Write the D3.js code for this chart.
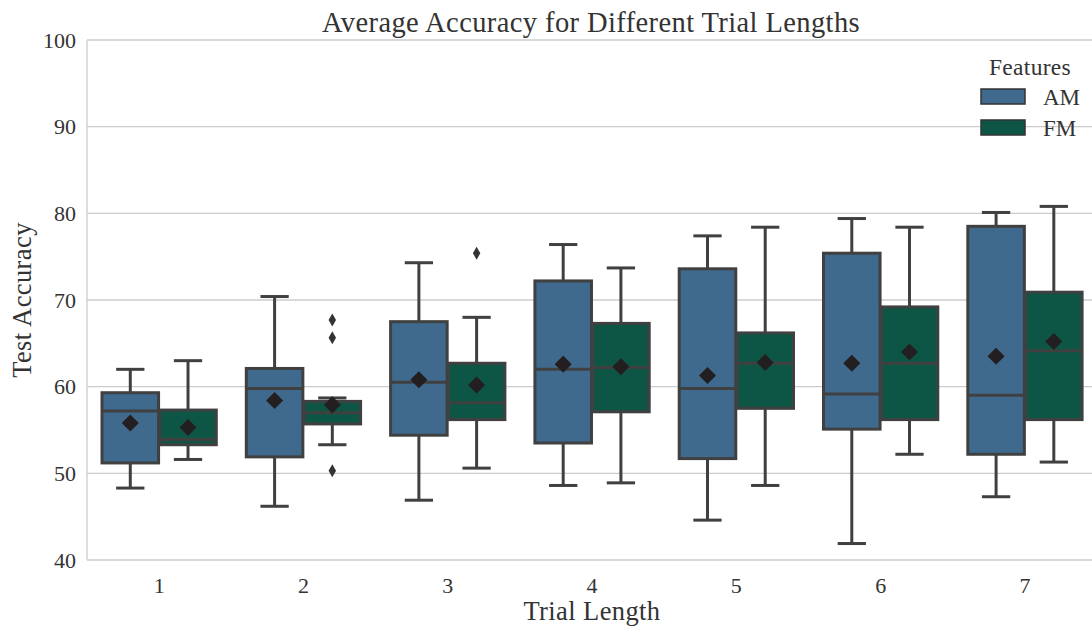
<!DOCTYPE html>
<html>
<head>
<meta charset="utf-8">
<script src="https://cdnjs.cloudflare.com/ajax/libs/d3/7.8.5/d3.min.js"></script>
<style>
 body { margin: 0; background: #fff; }
 text { font-family: "Liberation Serif", "DejaVu Serif", serif; fill: #333; }
</style>
</head>
<body>
<script>
'use strict'
// Boxplot: test accuracy per trial length, AM vs FM features

const trials = ["1", "2", "3", "4", "5", "6", "7"];
const features = ["AM", "FM"];
const yTicks = [40, 50, 60, 70, 80, 90, 100];

// five-number summaries + mean, one entry per trial length
const amLow  = [48.3, 46.2, 46.9, 48.6, 44.6, 41.9, 47.3];
const amQ1   = [51.2, 51.9, 54.4, 53.5, 51.7, 55.1, 52.2];
const amMed  = [57.2, 59.8, 60.5, 62.0, 59.8, 59.15, 59.0];
const amQ3   = [59.3, 62.1, 67.5, 72.2, 73.6, 75.4, 78.5];
const amHigh = [62.0, 70.4, 74.3, 76.4, 77.4, 79.4, 80.1];
const amMean = [55.8, 58.4, 60.8, 62.6, 61.3, 62.7, 63.5];

const fmLow  = [51.6, 53.3, 50.6, 48.9, 48.6, 52.2, 51.3];
const fmQ1   = [53.3, 55.7, 56.2, 57.1, 57.5, 56.2, 56.2];
const fmMed  = [53.9, 57.0, 58.15, 62.2, 62.7, 62.7, 64.15];
const fmQ3   = [57.3, 58.3, 62.7, 67.3, 66.2, 69.2, 70.9];
const fmHigh = [63.0, 58.7, 68.0, 73.7, 78.4, 78.4, 80.8];
const fmMean = [55.3, 57.9, 60.2, 62.3, 62.8, 64.0, 65.2];

// fliers: [trial, feature, value]
const outliers = [["2", "FM", 67.7], ["2", "FM", 65.65], ["2", "FM", 50.3], ["3", "FM", 75.4]];

const colors = { AM: "#3f6a8e", FM: "#0d5646" };
const lineColor = "#404040";

const width = 1092, height = 628;
const margin = { top: 40, left: 87, bottom: 68 };

const svg = d3.select("body").append("svg")
 .attr("width", width)
 .attr("height", height);

const x = d3.scaleBand().domain(trials).range([margin.left, margin.left + 7 * 144.3]);
const hue = d3.scaleBand().domain(features).range([0.1, 0.9]);
const y = d3.scaleLinear().domain([40, 100]).range([height - margin.bottom, margin.top]);

// grid
svg.append("g").selectAll("line").data(yTicks).join("line")
 .attr("x1", margin.left).attr("x2", width)
 .attr("y1", d => y(d)).attr("y2", d => y(d))
 .attr("stroke", "#cccccc").attr("stroke-width", 1.3);

svg.append("line")
 .attr("x1", margin.left).attr("x2", margin.left)
 .attr("y1", y(100)).attr("y2", y(40))
 .attr("stroke", "#cccccc").attr("stroke-width", 1.3);

// y tick labels
svg.append("g").selectAll("text").data(yTicks).join("text")
 .attr("x", margin.left - 11).attr("y", d => y(d))
 .attr("text-anchor", "end").attr("dominant-baseline", "central")
 .style("font-size", "22px")
 .text(d => d);

// x tick labels
svg.append("g").selectAll("text").data(trials).join("text")
 .attr("x", d => x(d) + x.bandwidth() / 2).attr("y", 585)
 .attr("text-anchor", "middle").attr("dominant-baseline", "central")
 .style("font-size", "22px")
 .text(d => d);

// build box rows
let boxes = [];
trials.forEach((t, i) => {
 boxes.push({ trial: t, feat: "AM", low: amLow[i], q1: amQ1[i], med: amMed[i], q3: amQ3[i], high: amHigh[i], mean: amMean[i] });
 boxes.push({ trial: t, feat: "FM", low: fmLow[i], q1: fmQ1[i], med: fmMed[i], q3: fmQ3[i], high: fmHigh[i], mean: fmMean[i] });
});

const boxW = hue.bandwidth() * x.bandwidth() * 0.98;
const cx = d => x(d.trial) + (hue(d.feat) + hue.bandwidth() / 2) * x.bandwidth();

const g = svg.append("g").selectAll("g").data(boxes).join("g");

// whiskers
g.append("line")
 .attr("x1", cx).attr("x2", cx)
 .attr("y1", d => y(d.high)).attr("y2", d => y(d.q3))
 .attr("stroke", lineColor).attr("stroke-width", 3);
g.append("line")
 .attr("x1", cx).attr("x2", cx)
 .attr("y1", d => y(d.q1)).attr("y2", d => y(d.low))
 .attr("stroke", lineColor).attr("stroke-width", 3);
// caps
g.append("line")
 .attr("x1", d => cx(d) - boxW / 4).attr("x2", d => cx(d) + boxW / 4)
 .attr("y1", d => y(d.high)).attr("y2", d => y(d.high))
 .attr("stroke", lineColor).attr("stroke-width", 3);
g.append("line")
 .attr("x1", d => cx(d) - boxW / 4).attr("x2", d => cx(d) + boxW / 4)
 .attr("y1", d => y(d.low)).attr("y2", d => y(d.low))
 .attr("stroke", lineColor).attr("stroke-width", 3);

// boxes
g.append("rect")
 .attr("x", d => cx(d) - boxW / 2)
 .attr("y", d => y(d.q3))
 .attr("width", boxW)
 .attr("height", d => y(d.q1) - y(d.q3))
 .attr("fill", d => colors[d.feat])
 .attr("stroke", lineColor).attr("stroke-width", 3);

// medians
g.append("line")
 .attr("x1", d => cx(d) - boxW / 2).attr("x2", d => cx(d) + boxW / 2)
 .attr("y1", d => y(d.med)).attr("y2", d => y(d.med))
 .attr("stroke", lineColor).attr("stroke-width", 3);

// means
g.append("path")
 .attr("d", d3.symbol(d3.symbolSquare, 145)())
 .attr("transform", d => "translate(" + cx(d) + "," + y(d.mean) + ") rotate(45)")
 .attr("fill", "#231f20");

// fliers
svg.append("g").selectAll("path").data(outliers).join("path")
 .attr("d", d3.symbol(d3.symbolDiamond, 48)())
 .attr("transform", d => "translate(" + cx({ trial: d[0], feat: d[1] }) + "," + y(d[2]) + ")")
 .attr("fill", "#333");

// title and axis labels
svg.append("text")
 .attr("x", 591).attr("y", 22)
 .attr("text-anchor", "middle").attr("dominant-baseline", "central")
 .style("font-size", "28.5px").style("letter-spacing", "0.4px")
 .text("Average Accuracy for Different Trial Lengths");

svg.append("text")
 .attr("x", 592).attr("y", 611)
 .attr("text-anchor", "middle").attr("dominant-baseline", "central")
 .style("font-size", "26.5px").style("letter-spacing", "0.4px")
 .text("Trial Length");

svg.append("text")
 .attr("transform", "translate(22,300) rotate(-90)")
 .attr("text-anchor", "middle").attr("dominant-baseline", "central")
 .style("font-size", "26.5px").style("letter-spacing", "0.4px")
 .text("Test Accuracy");

// legend
const legend = svg.append("g");
legend.append("text")
 .attr("x", 1030).attr("y", 67)
 .attr("text-anchor", "middle").attr("dominant-baseline", "central")
 .style("font-size", "23.5px").style("letter-spacing", "0.3px")
 .text("Features");

const items = legend.selectAll("g.item").data(features).join("g")
 .attr("transform", (d, i) => "translate(981," + (89 + i * 31) + ")");
items.append("rect")
 .attr("width", 44).attr("height", 15)
 .attr("fill", d => colors[d])
 .attr("stroke", "#333").attr("stroke-width", 1.5);
items.append("text")
 .attr("x", 62).attr("y", 8)
 .attr("dominant-baseline", "central")
 .style("font-size", "23px")
 .text(d => d);
</script>
</body>
</html>
